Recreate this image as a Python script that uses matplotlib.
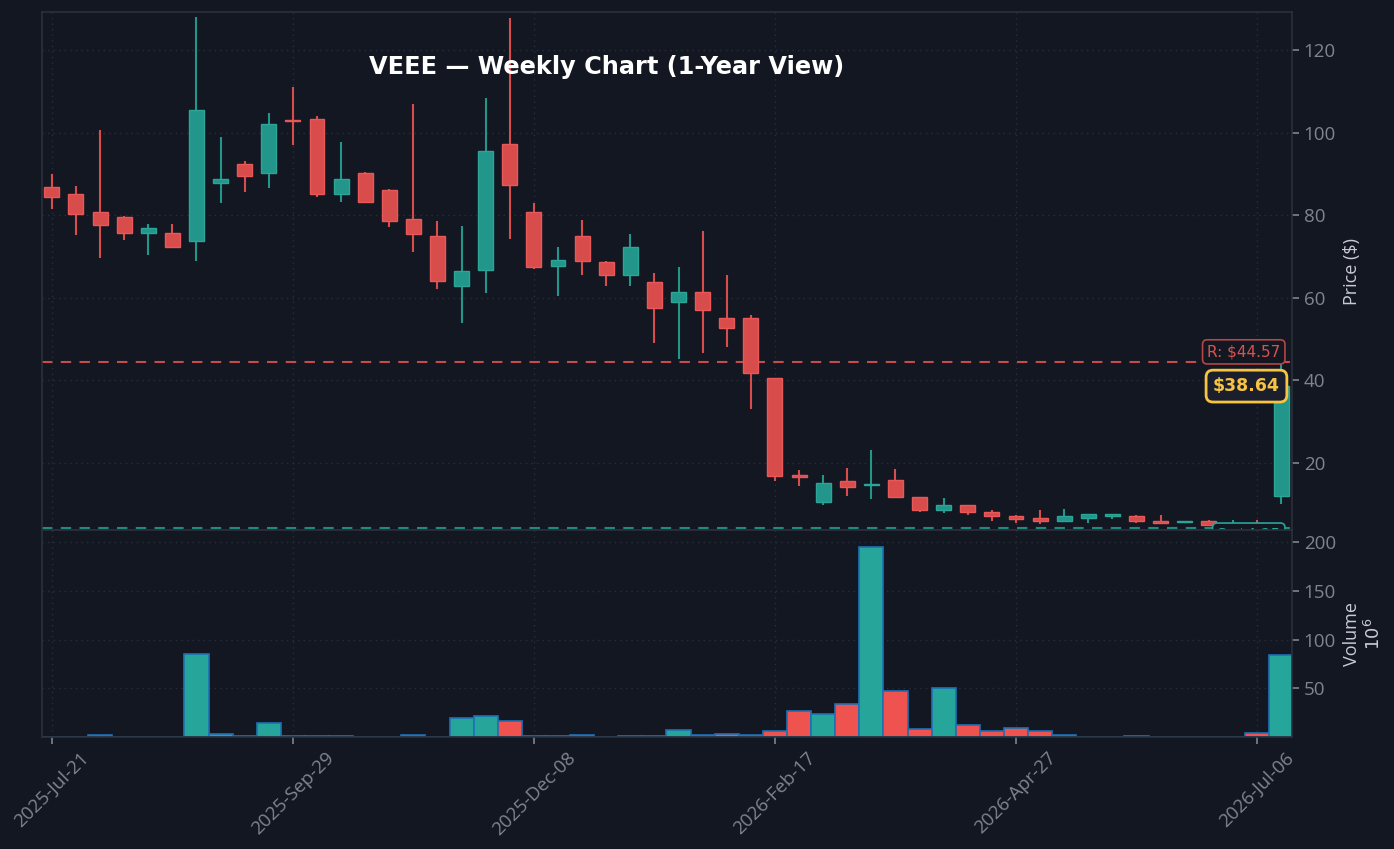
import matplotlib
matplotlib.use("Agg")
import matplotlib.pyplot as plt
import numpy as np

# weekly OHLC
opens  = [86.9, 85.1, 80.9, 79.5, 75.8, 75.6, 73.7, 87.8, 92.4, 90.2,
          103.0, 103.4, 85.1, 90.2, 86.1, 79.1, 74.9, 62.8, 66.7, 97.3,
          80.9, 67.6, 74.9, 68.6, 65.5, 63.9, 58.9, 61.4, 55.1, 55.1,
          40.6, 17.0, 10.6, 15.6, 14.6, 15.9, 11.8, 8.6, 9.8, 8.1,
          7.3, 6.6, 6.1, 6.8, 7.1, 7.3, 6.1, 5.7, 6.1, 5.0,
          5.4, 12.1]
highs  = [90.0, 87.1, 100.6, 79.8, 77.8, 77.8, 128.0, 99.0, 93.1, 104.8,
          111.1, 104.0, 97.7, 90.4, 86.3, 106.9, 78.6, 77.4, 108.3, 127.7,
          82.9, 72.2, 78.8, 68.9, 75.4, 66.0, 67.4, 76.2, 65.5, 55.8,
          40.6, 18.3, 17.1, 18.8, 23.1, 18.5, 11.9, 11.5, 9.9, 8.6,
          7.4, 8.6, 8.9, 7.7, 7.7, 7.4, 7.4, 5.9, 6.2, 6.3,
          6.3, 49.0]
lows   = [81.5, 75.2, 69.7, 74.0, 70.3, 72.0, 68.9, 82.9, 85.6, 86.6,
          97.1, 84.4, 83.2, 83.0, 77.1, 71.1, 62.2, 54.0, 61.2, 74.2,
          66.9, 60.4, 65.5, 62.8, 62.8, 49.0, 45.2, 46.6, 48.1, 33.1,
          15.6, 14.4, 9.8, 12.0, 11.4, 11.6, 8.2, 8.0, 7.5, 6.0,
          5.5, 5.3, 6.0, 5.5, 6.5, 5.4, 5.3, 5.6, 4.8, 4.6,
          4.7, 10.1]
closes = [84.4, 80.2, 77.7, 75.8, 76.8, 72.2, 105.4, 88.8, 89.5, 102.1,
          102.8, 85.1, 88.8, 83.2, 78.6, 75.4, 64.0, 66.5, 95.6, 87.3,
          67.4, 69.1, 68.9, 65.5, 72.4, 57.5, 61.4, 57.0, 52.7, 41.8,
          16.9, 16.7, 15.2, 14.2, 14.8, 11.8, 8.6, 9.8, 8.1, 7.3,
          6.4, 6.1, 7.1, 7.6, 7.6, 5.9, 5.6, 5.9, 4.9, 5.2,
          5.1, 38.64]
# volume in millions
volumes = [0.3, 0.8, 2.4, 0.1, 0.1, 0.1, 85.3, 3.4, 1.0, 14.4,
           1.0, 1.0, 1.0, 0.1, 0.1, 2.4, 0.1, 19.5, 21.6, 16.4,
           1.0, 1.0, 2.4, 0.1, 1.0, 1.0, 7.5, 2.2, 3.1, 2.1,
           6.2, 26.7, 23.6, 33.9, 194.2, 47.9, 8.2, 50.3, 12.3, 6.2,
           9.2, 6.2, 2.1, 0.1, 0.1, 1.0, 0.1, 0.1, 0.1, 0.1,
           4.1, 84.2]
tick_pos = [0, 10, 20, 30, 40, 50]
tick_labels = ["2025-Jul-21", "2025-Sep-29", "2025-Dec-08",
               "2026-Feb-17", "2026-Apr-27", "2026-Jul-06"]
resistance = 44.57
support = 4.25
last_price = 38.64

bg = "#131722"
grid_c = "#2a2e3a"
tick_c = "#80848f"
up_c, dn_c = "#22968a", "#d84c4c"
up_v, dn_v = "#26a69a", "#ef5350"

o = np.array(opens); c = np.array(closes)
h = np.array(highs); l = np.array(lows)
x = np.arange(len(o))
up = c >= o

fig = plt.figure(figsize=(13.94, 8.49), dpi=100, facecolor=bg)
ax = fig.add_axes([0.0301, 0.3757, 0.8967, 0.6102], facecolor=bg)
axv = fig.add_axes([0.0301, 0.1319, 0.8967, 0.2438], facecolor=bg, sharex=ax)

# candles
cols = np.where(up, up_c, dn_c)
ax.vlines(x, l, h, colors=cols, linewidth=1.5, zorder=2)
body_lo = np.minimum(o, c)
body_h = np.maximum(np.abs(c - o), 0.35)
ax.bar(x, body_h, bottom=body_lo, width=0.62, color=cols,
       edgecolor=np.where(up, "#2aa596", "#e85858"), linewidth=1, zorder=3)

ax.axhline(resistance, color="#c94a4a", linestyle=(0, (5, 4)), linewidth=1.5, zorder=1)
ax.axhline(support, color="#1f8a7e", linestyle=(0, (5, 4)), linewidth=1.5, zorder=1)

ax.annotate(f"R: ${resistance:.2f}", xy=(50.97, resistance), xytext=(0, 7),
            textcoords="offset points", ha="right", va="center",
            color="#d9534f", fontsize=11, family="DejaVu Sans",
            bbox=dict(boxstyle="round,pad=0.3", fc=bg, ec="#b84444", lw=1.2),
            annotation_clip=False, zorder=6)
ax.annotate(f"S: ${support:.2f}", xy=(50.97, support), xytext=(0, -5),
            textcoords="offset points", ha="right", va="center",
            color="#26a69a", fontsize=11, family="DejaVu Sans",
            bbox=dict(boxstyle="round,pad=0.3", fc=bg, ec="#26a69a", lw=1.2),
            annotation_clip=False, zorder=6)
ax.annotate(f"${last_price:.2f}", xy=(50.95, last_price), ha="right", va="center",
            color="#f6c343", fontsize=12.5, fontweight="bold", family="DejaVu Sans",
            bbox=dict(boxstyle="round,pad=0.4", fc="#1b1e2c", ec="#f6c343", lw=2),
            annotation_clip=False, zorder=7)

ax.set_xlim(-0.41, 51.45)
ax.set_ylim(3.8, 129.2)
ax.set_yticks([20, 40, 60, 80, 100, 120])
ax.yaxis.tick_right()
ax.yaxis.set_label_position("right")
ax.set_ylabel("Price ($)", color="#c8cbd2", fontsize=13, family="Open Sans", labelpad=5)
ax.tick_params(axis="x", which="both", bottom=False, labelbottom=False)

# volume
vcols = np.where(up, up_v, dn_v)
axv.bar(x, volumes, width=1.0, color=vcols, edgecolor="#1f6fb5", linewidth=1.2, zorder=2)
axv.set_ylim(0.4, 212)
axv.set_yticks([50, 100, 150, 200])
axv.yaxis.tick_right()
axv.yaxis.set_label_position("right")
axv.set_ylabel("Volume\n$10^{6}$", color="#c8cbd2", fontsize=13, family="Open Sans", labelpad=5)
axv.set_xticks(tick_pos)
axv.set_xticklabels(tick_labels, rotation=45)

for a in (ax, axv):
    a.grid(True, color=grid_c, linestyle=(0, (1, 3)), linewidth=1)
    a.set_axisbelow(True)
    for s in a.spines.values():
        s.set_color("#2c303b")
        s.set_linewidth(1.2)
    a.tick_params(colors=tick_c, labelsize=13.5, length=5, width=1.2)
    for t in a.get_xticklabels() + a.get_yticklabels():
        t.set_family("Open Sans")

fig.text(0.435, 0.921, "VEEE \u2014 Weekly Chart (1-Year View)", ha="center", va="center",
         color="white", fontsize=17.3, fontweight="bold", family="DejaVu Sans")

fig.savefig("out.png", dpi=100, facecolor=bg)
